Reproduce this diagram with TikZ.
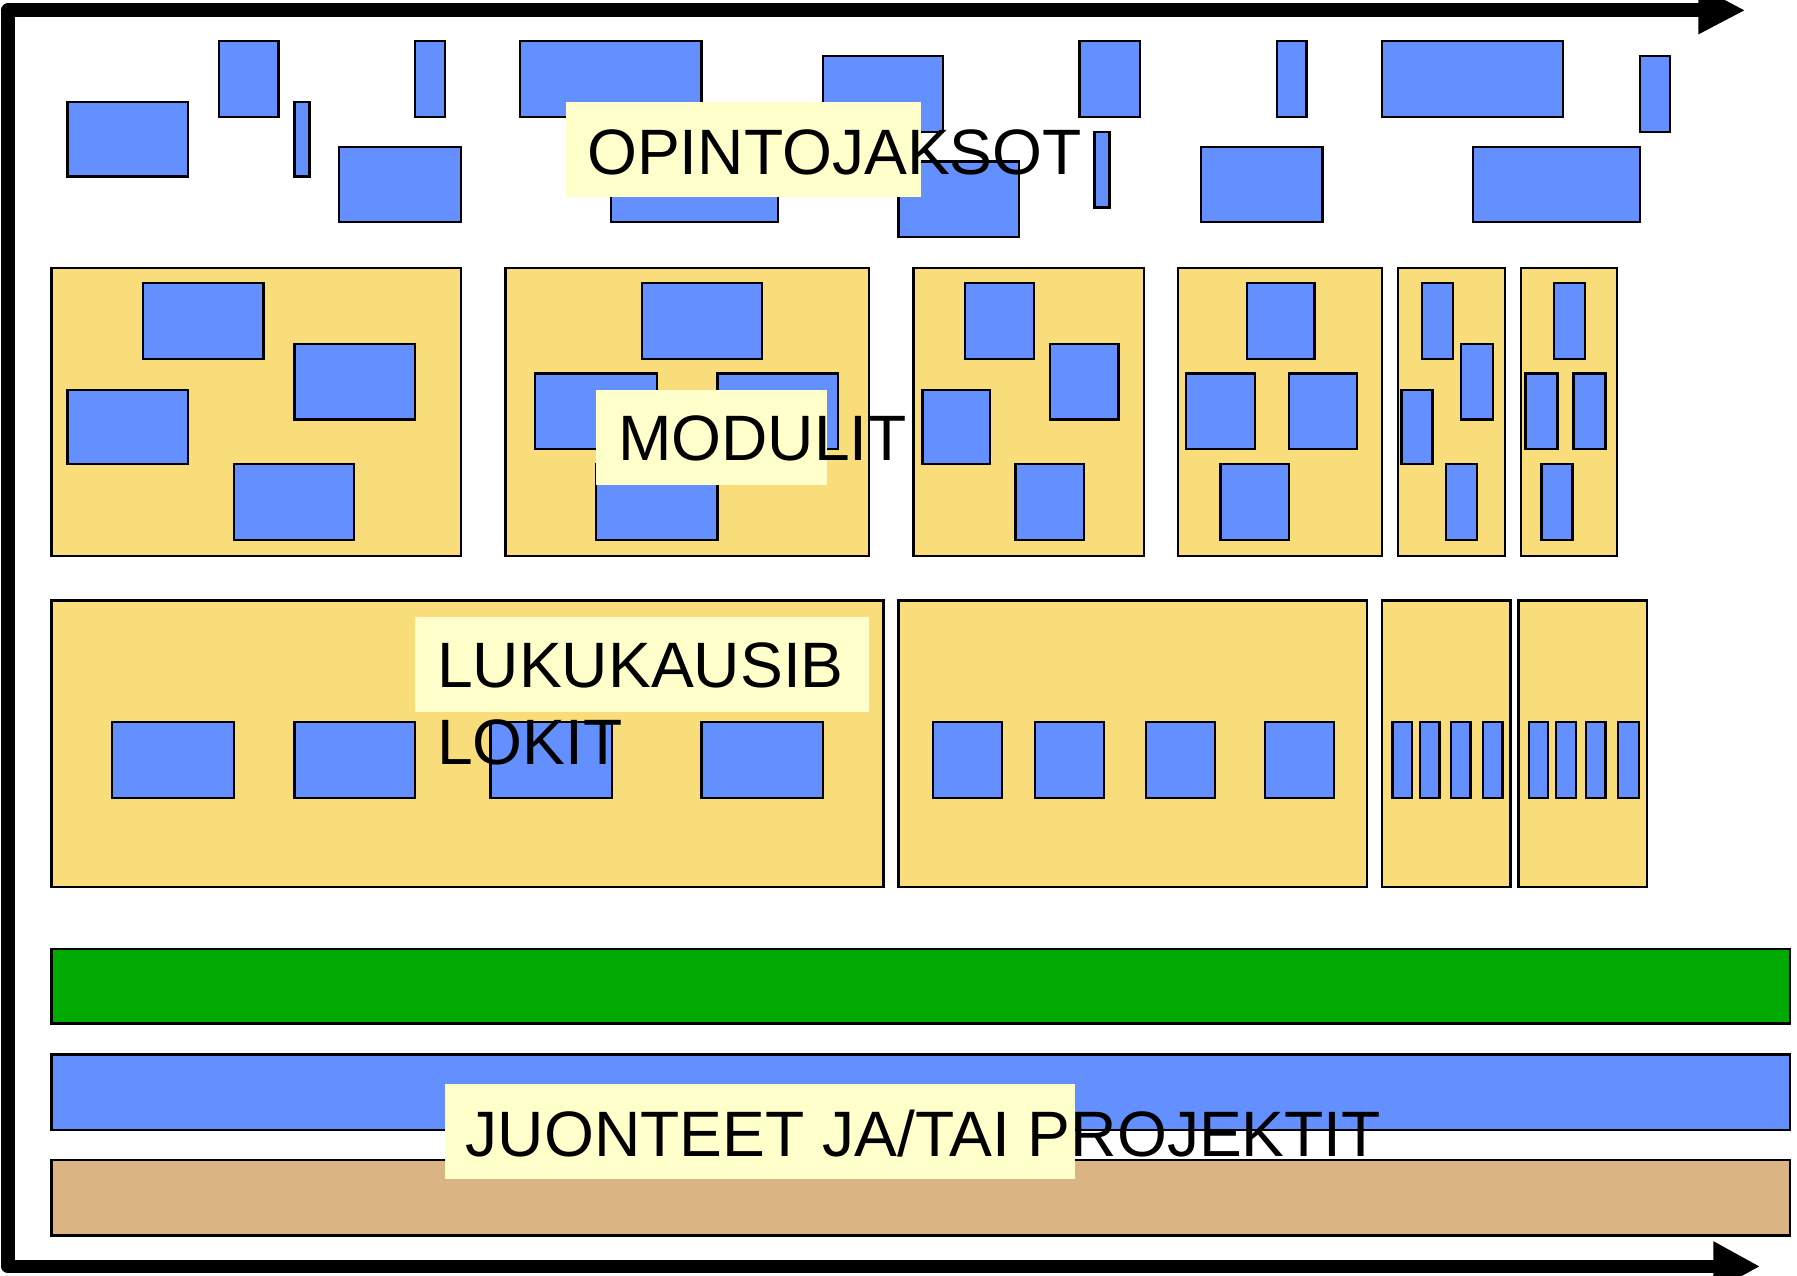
\documentclass[tikz,border=0pt]{standalone}
\usepackage{fontspec}
\setmainfont{Liberation Sans}
\usepackage{tikz}

\definecolor{jaksoblue}{RGB}{100,144,255}
\definecolor{modyellow}{RGB}{249,221,122}
\definecolor{lblyellow}{RGB}{255,255,204}
\definecolor{bargreen}{RGB}{0,170,0}
\definecolor{bartan}{RGB}{219,180,132}

\begin{document}
\begin{tikzpicture}[x=0.5pt,y=0.5pt,yscale=-1,xscale=1,
  jakso/.style={draw=black,line width=1pt,fill=jaksoblue},
  modbox/.style={draw=black,line width=1pt,fill=modyellow},
  lblbg/.style={fill=lblyellow,draw=none},
  lbl/.style={anchor=base west,inner sep=0pt,align=left,font=\fontsize{28}{33.5}\selectfont},
  axis/.style={line width=6pt,line join=round}]
%set diagram left start at 0, and has height of 1113
\useasboundingbox (0,0) rectangle (1568,1113);

% Axes
\draw [axis] (1484,9) -- (7,9) -- (7,1105) -- (1497,1105) ;
\fill (1482,-12) -- (1522,9) -- (1482,30) -- cycle ;
\fill (1495,1083) -- (1535,1105) -- (1495,1127) -- cycle ;

% Opintojaksot
\draw [jakso] (59,89) rectangle (164,154) ;
\draw [jakso] (191,36) rectangle (243,102) ;
\draw [jakso] (257,89) rectangle (270,154) ;
\draw [jakso] (362,36) rectangle (388,102) ;
\draw [jakso] (296,128) rectangle (402,194) ;
\draw [jakso] (454,36) rectangle (612,102) ;
\draw [jakso] (533,128) rectangle (679,194) ;
\draw [jakso] (718,49) rectangle (823,115) ;
\draw [jakso] (784,141) rectangle (889,207) ;
\draw [jakso] (942,36) rectangle (995,102) ;
\draw [jakso] (955,115) rectangle (968,181) ;
\draw [jakso] (1114,36) rectangle (1140,102) ;
\draw [jakso] (1048,128) rectangle (1154,194) ;
\draw [jakso] (1206,36) rectangle (1364,102) ;
\draw [jakso] (1285,128) rectangle (1431,194) ;
\draw [jakso] (1431,49) rectangle (1457,115) ;
% Text Node
\fill [lblbg] (494,89) rectangle (804,172) ;
\draw (512,152) node [lbl] (opintojaksot) {OPINTOJAKSOT};

% Modulit
\draw [modbox] (45,234) rectangle (402,485) ;
\draw [jakso] (125,247) rectangle (230,313) ;
\draw [jakso] (257,300) rectangle (362,366) ;
\draw [jakso] (59,340) rectangle (164,405) ;
\draw [jakso] (204,405) rectangle (309,471) ;
\draw [modbox] (441,234) rectangle (758,485) ;
\draw [jakso] (560,247) rectangle (665,313) ;
\draw [jakso] (467,326) rectangle (573,392) ;
\draw [jakso] (626,326) rectangle (731,392) ;
\draw [jakso] (520,405) rectangle (626,471) ;
\draw [modbox] (797,234) rectangle (998,485) ;
\draw [jakso] (842,247) rectangle (902,313) ;
\draw [jakso] (916,300) rectangle (976,366) ;
\draw [jakso] (805,340) rectangle (864,405) ;
\draw [jakso] (886,405) rectangle (946,471) ;
\draw [modbox] (1028,234) rectangle (1206,485) ;
\draw [jakso] (1088,247) rectangle (1147,313) ;
\draw [jakso] (1035,326) rectangle (1095,392) ;
\draw [jakso] (1125,326) rectangle (1184,392) ;
\draw [jakso] (1065,405) rectangle (1125,471) ;
\draw [modbox] (1220,234) rectangle (1313,485) ;
\draw [jakso] (1241,247) rectangle (1268,313) ;
\draw [jakso] (1275,300) rectangle (1303,366) ;
\draw [jakso] (1223,340) rectangle (1250,405) ;
\draw [jakso] (1262,405) rectangle (1289,471) ;
\draw [modbox] (1327,234) rectangle (1411,485) ;
\draw [jakso] (1356,247) rectangle (1383,313) ;
\draw [jakso] (1331,326) rectangle (1359,392) ;
\draw [jakso] (1373,326) rectangle (1401,392) ;
\draw [jakso] (1345,405) rectangle (1372,471) ;
% Text Node
\fill [lblbg] (520,340) rectangle (722,423) ;
\draw (539,402) node [lbl] (modulit) {MODULIT};

% Lukukausiblokit
\draw [modbox] (45,524) rectangle (771,774) ;
\draw [jakso] (98,630) rectangle (204,696) ;
\draw [jakso] (257,630) rectangle (362,696) ;
\draw [jakso] (428,630) rectangle (534,696) ;
\draw [jakso] (612,630) rectangle (718,696) ;
\draw [modbox] (784,524) rectangle (1193,774) ;
\draw [jakso] (814,630) rectangle (874,696) ;
\draw [jakso] (903,630) rectangle (963,696) ;
\draw [jakso] (1000,630) rectangle (1060,696) ;
\draw [jakso] (1104,630) rectangle (1164,696) ;
\draw [modbox] (1206,524) rectangle (1318,774) ;
\draw [jakso] (1215,630) rectangle (1232,696) ;
\draw [jakso] (1239,630) rectangle (1256,696) ;
\draw [jakso] (1266,630) rectangle (1283,696) ;
\draw [jakso] (1294,630) rectangle (1311,696) ;
\draw [modbox] (1325,524) rectangle (1437,774) ;
\draw [jakso] (1334,630) rectangle (1351,696) ;
\draw [jakso] (1358,630) rectangle (1375,696) ;
\draw [jakso] (1384,630) rectangle (1401,696) ;
\draw [jakso] (1412,630) rectangle (1430,696) ;
% Text Node
\fill [lblbg] (362,538) rectangle (758,621) ;
\draw (381,667) node [lbl] (lukukausi) {LUKUKAUSIB\\LOKIT};

% Juonteet ja projektit
\draw [line width=1pt,fill=bargreen] (45,828) rectangle (1562,893) ;
\draw [jakso] (45,920) rectangle (1562,986) ;
\draw [line width=1pt,fill=bartan] (45,1012) rectangle (1562,1078) ;
% Text Node
\fill [lblbg] (388,946) rectangle (938,1029) ;
\draw (406,1009) node [lbl] (juonteet) {JUONTEET JA/TAI PROJEKTIT};

\end{tikzpicture}
\end{document}
